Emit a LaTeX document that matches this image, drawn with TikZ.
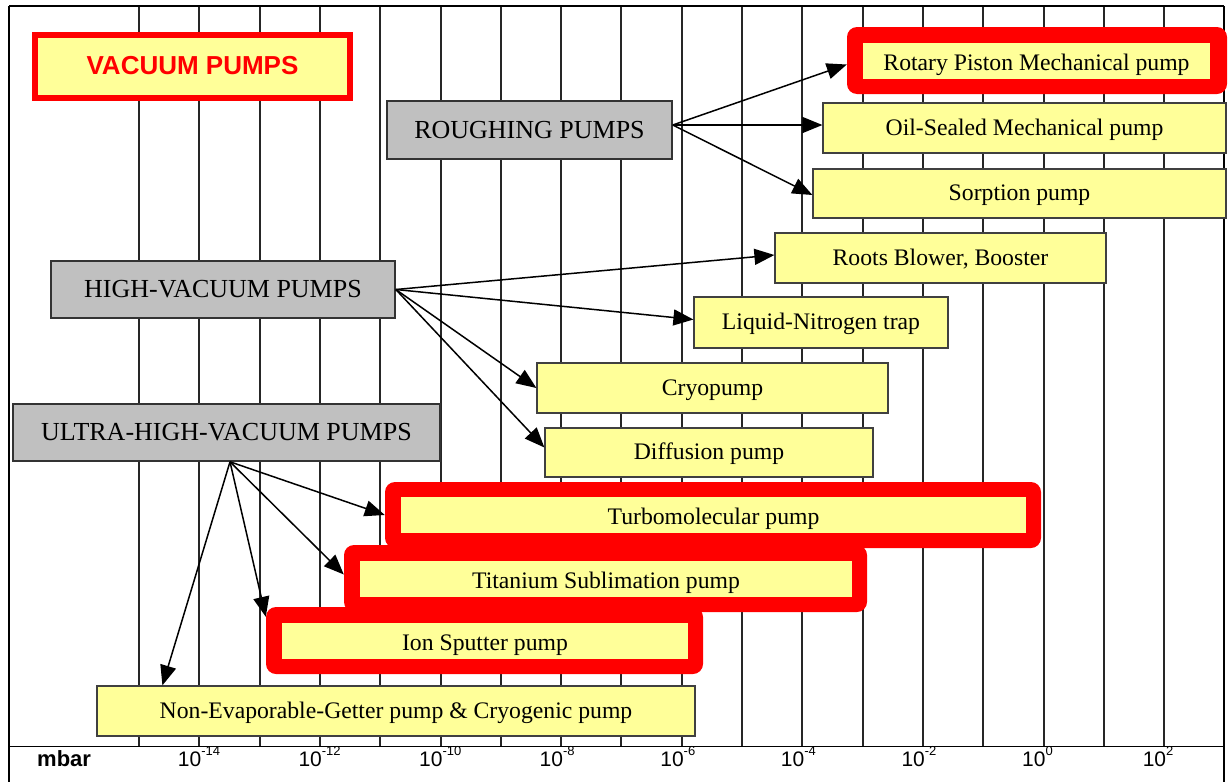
\documentclass[tikz,border=0pt]{standalone}
\usepackage{fontspec}
\setmainfont{Liberation Serif}
\newfontfamily\arialf{Liberation Sans}
\usetikzlibrary{arrows.meta,calc}
\definecolor{yel}{HTML}{FFFF99}
\definecolor{gry}{HTML}{C0C0C0}
\definecolor{hred}{HTML}{FF0000}
\begin{document}
\begin{tikzpicture}[x=1pt,y=-1pt,
  ybox/.style={draw=black!75, line width=1.2pt, fill=yel, inner sep=0pt,
    font=\fontsize{23.7}{28}\selectfont, text height=17.5pt, text depth=3.5pt},
  hbox/.style={fill=yel, inner sep=0pt,
    font=\fontsize{23.7}{28}\selectfont, text height=18pt, text depth=-1pt},
  gbox/.style={draw=black!80, line width=1.6pt, fill=gry, inner sep=0pt,
    font=\fontsize{26}{30}\selectfont, text height=20pt, text depth=4pt},
  redframe/.style={fill=hred, rounded corners=10pt, inner sep=0pt},
  gridline/.style={draw=black!85, line width=1.2pt},
  frameline/.style={draw=black, line width=1.8pt},
  arr/.style={line width=1.5pt, -{Triangle[length=20pt,width=16pt]}},
  lab/.style={inner sep=0pt, font=\arialf\fontsize{21}{24}\selectfont}
]
\useasboundingbox (0,0) rectangle (1232,782);
% grid
\foreach \k in {0,...,17}
  \draw[gridline] ({round(139+60.3*\k)},6) -- ({round(139+60.3*\k)},746.5);
\draw[frameline] (9,6) -- (1224,6);
\draw[frameline] (9,6) -- (9,782);
\draw[frameline] (1224,6) -- (1224,782);
\draw[frameline] (9,746.5) -- (1224,746.5);
% axis labels
\node[lab, anchor=base west, font=\arialf\bfseries\fontsize{22}{24}\selectfont] (mbar) at (37,766) {mbar};
\foreach \k/\e in {1/-14,3/-12,5/-10,7/-8,9/-6,11/-4,13/-2,15/0,17/2}
  \node[lab, anchor=base] (l\k) at ({139+60.3*\k+2},766)
    {\llap{10}\rlap{\raisebox{10.5pt}{\fontsize{13}{13}\selectfont\e}}};
% title
\node[draw=hred, line width=6pt, fill=yel, minimum width=315pt, minimum height=63pt,
  inner sep=0pt, text=hred, font=\arialf\bfseries\fontsize{26}{28}\selectfont,
  text height=18pt, text depth=2pt] (vac) at (192.5,66.5) {VACUUM PUMPS};
% group boxes
\node[gbox, minimum width=285pt, minimum height=58pt] (rough) at (529.5,130) {ROUGHING PUMPS};
\node[gbox, minimum width=344pt, minimum height=57pt] (high) at (223,289.5) {HIGH-VACUUM PUMPS};
\node[gbox, minimum width=427pt, minimum height=57pt] (ultra) at (226.5,432.5) {ULTRA-HIGH-VACUUM PUMPS};
% pumps
\node[redframe, minimum width=380pt, minimum height=67pt] (rotF) at (1037,60.5) {};
\node[hbox, minimum width=347pt, minimum height=36pt] (rot) at (1036.5,61) {Rotary Piston Mechanical pump};
\node[ybox, minimum width=403pt, minimum height=50pt] (oil) at (1024.5,128) {Oil-Sealed Mechanical pump};
\node[ybox, minimum width=413pt, minimum height=49pt] (sorp) at (1019.5,193.5) {Sorption pump};
\node[ybox, minimum width=331pt, minimum height=50pt] (roots) at (940.5,258) {Roots Blower, Booster};
\node[ybox, minimum width=254pt, minimum height=51pt] (ln) at (821,322.5) {Liquid-Nitrogen trap};
\node[ybox, minimum width=351pt, minimum height=50pt] (cryo) at (712.5,388) {Cryopump};
\node[ybox, minimum width=328pt, minimum height=49pt] (diff) at (709,452.5) {Diffusion pump};
\node[redframe, minimum width=656pt, minimum height=66pt] (turboF) at (713,515) {};
\node[hbox, minimum width=625pt, minimum height=36pt] (turbo) at (713.5,515) {Turbomolecular pump};
\node[redframe, minimum width=523pt, minimum height=67pt] (titF) at (605.5,578.5) {};
\node[hbox, minimum width=492pt, minimum height=36pt] (tit) at (606,579) {Titanium Sublimation pump};
\node[redframe, minimum width=437pt, minimum height=67pt] (ionF) at (484.5,640.5) {};
\node[hbox, minimum width=406pt, minimum height=36pt] (ion) at (485,641) {Ion Sputter pump};
\node[ybox, minimum width=598pt, minimum height=50pt] (neg) at (396,711) {Non-Evaporable-Getter pump \& Cryogenic pump};
% arrows
\draw[arr] ([yshift=5pt]rough.east) -- ([yshift=-4pt]rotF.west);
\draw[arr] ([yshift=5pt]rough.east) -- ([yshift=3pt]oil.west);
\draw[arr] ([yshift=5pt]rough.east) -- ([yshift=-1.5pt]sorp.west);
\draw[arr] (high.east) -- ([yshift=3pt]roots.west);
\draw[arr] (high.east) -- ([yshift=3pt]ln.west);
\draw[arr] (high.east) -- (cryo.west);
\draw[arr] (high.east) -- ([yshift=5pt]diff.west);
\draw[arr] ([xshift=3.5pt]ultra.south) -- (turboF.west);
\draw[arr] ([xshift=3.5pt]ultra.south) -- ([yshift=4pt]titF.west);
\draw[arr] ([xshift=3.5pt]ultra.south) -- ([yshift=-10pt]ionF.north west);
\draw[arr] ([xshift=3.5pt]ultra.south) -- ($(neg.north west)+(66,0)$);
\end{tikzpicture}
\end{document}
